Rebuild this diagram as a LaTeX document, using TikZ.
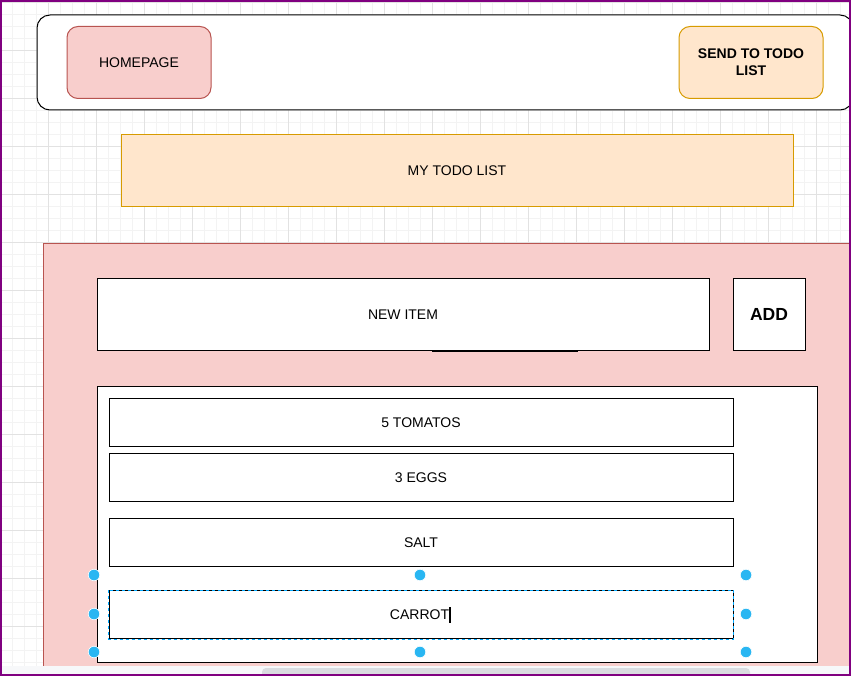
\documentclass[tikz,border=0pt]{standalone}
\usepackage{fontspec}
\setmainfont{Liberation Sans}
\definecolor{pinkfill}{HTML}{F8CECC}
\definecolor{pinkdraw}{HTML}{B85450}
\definecolor{orfill}{HTML}{FFE6CC}
\definecolor{ordraw}{HTML}{D79B00}
\definecolor{handlec}{HTML}{29B6F2}
\definecolor{framec}{HTML}{800080}
\definecolor{gridminor}{HTML}{F3F3F3}
\definecolor{gridmajor}{HTML}{E2E2E2}
\definecolor{scrollband}{HTML}{F7F8FA}
\definecolor{scrollbar}{HTML}{DADCE0}
\definecolor{selblue}{HTML}{00A8FF}
\tikzset{
  txt/.style={font=\fontsize{14}{17}\selectfont, text=black},
  boxw/.style={draw=black, line width=1pt, fill=white, inner sep=0pt, txt},
  pinkbtn/.style={draw=pinkdraw, line width=1pt, fill=pinkfill, rounded corners=11pt, inner sep=0pt, txt},
  orbtn/.style={draw=ordraw, line width=1pt, fill=orfill, rounded corners=11pt, inner sep=0pt, txt},
  orbar/.style={draw=ordraw, line width=1pt, fill=orfill, inner sep=0pt, txt},
  handle/.style={circle, fill=handlec, draw=white, line width=0.6pt, minimum size=11.5pt, inner sep=0pt},
}
\begin{document}
\begin{tikzpicture}[x=1pt,y=-1pt]
\useasboundingbox (0,0) rectangle (851,676);
% background and grid
\fill[white] (0,0) rectangle (851,676);
\foreach \gx in {0,12,...,851} \draw[gridminor, line width=0.8pt] (\gx,0) -- (\gx,676);
\foreach \gy in {2,14,...,676} \draw[gridminor, line width=0.8pt] (0,\gy) -- (851,\gy);
\foreach \gx in {0,48,...,851} \draw[gridmajor, line width=0.8pt] (\gx,0) -- (\gx,676);
\foreach \gy in {2,50,...,676} \draw[gridmajor, line width=0.8pt] (0,\gy) -- (851,\gy);

% top bar
\node[draw=black, line width=1pt, fill=white, rounded corners=13pt, minimum width=816pt, minimum height=95pt, inner sep=0pt] (topbar) at (445,62.5) {};
\node[pinkbtn, minimum width=144pt, minimum height=72pt] (home) at (139,62.5) {HOMEPAGE};
\node[orbtn, minimum width=144pt, minimum height=72pt, align=center, font=\bfseries\fontsize{14}{17}\selectfont] (send) at (751,62.5) {SEND TO TODO\\LIST};

% title bar
\node[orbar, minimum width=672pt, minimum height=72pt] (mytodo) at (457,170.5) {MY TODO LIST};

% pink container
\node[draw=pinkdraw, line width=1pt, fill=pinkfill, minimum width=830pt, minimum height=460pt, inner sep=0pt, anchor=north west] (panel) at (43,243) {};

% input row
\node[boxw, minimum width=612pt, minimum height=71pt] (newitem) at (403,314.5) {NEW ITEM};
\coordinate (nl) at (432,351);
\coordinate (nr) at (578,351);
\draw[black, line width=1.2pt] (nl) -- (nr);
\node[boxw, minimum width=72pt, minimum height=71pt, font=\bfseries\fontsize{17.5}{20}\selectfont] (add) at (769,314.5) {ADD};

% list
\node[boxw, minimum width=720pt, minimum height=276pt] (list) at (457,524.7) {};
\node[boxw, minimum width=624pt, minimum height=48pt] (tom) at (421,422.5) {5 TOMATOS};
\node[boxw, minimum width=624pt, minimum height=48pt] (eggs) at (421,477.5) {3 EGGS};
\node[boxw, minimum width=624pt, minimum height=48pt] (salt) at (421,542.5) {SALT};
\node[boxw, minimum width=624pt, minimum height=48pt] (carrot) at (421,614.7) {};
\draw[selblue, line width=1pt, dash pattern=on 3pt off 3pt] (carrot.north west) rectangle (carrot.south east);
\node[txt, inner sep=0pt] (carrottxt) at (419.5,615) {CARROT};
\coordinate (cur1) at (449.5,607);
\coordinate (cur2) at (449.5,622.5);
\draw[black, line width=2pt] (cur1) -- (cur2);

% selection handles
\node[handle] (h1) at (94,575) {};
\node[handle] (h2) at (420,575) {};
\node[handle] (h3) at (746,575) {};
\node[handle] (h4) at (94,614) {};
\node[handle] (h5) at (746,614) {};
\node[handle] (h6) at (94,652) {};
\node[handle] (h7) at (420,652) {};
\node[handle] (h8) at (746,652) {};

% scrollbar
\fill[scrollband] (0,665.5) rectangle (851,676);
\fill[scrollbar, rounded corners=4pt] (262,668) rectangle (750,680);

% outer frame
\draw[framec, line width=1.6pt] (0.8,0.8) rectangle (850.2,675.2);
\end{tikzpicture}
\end{document}
